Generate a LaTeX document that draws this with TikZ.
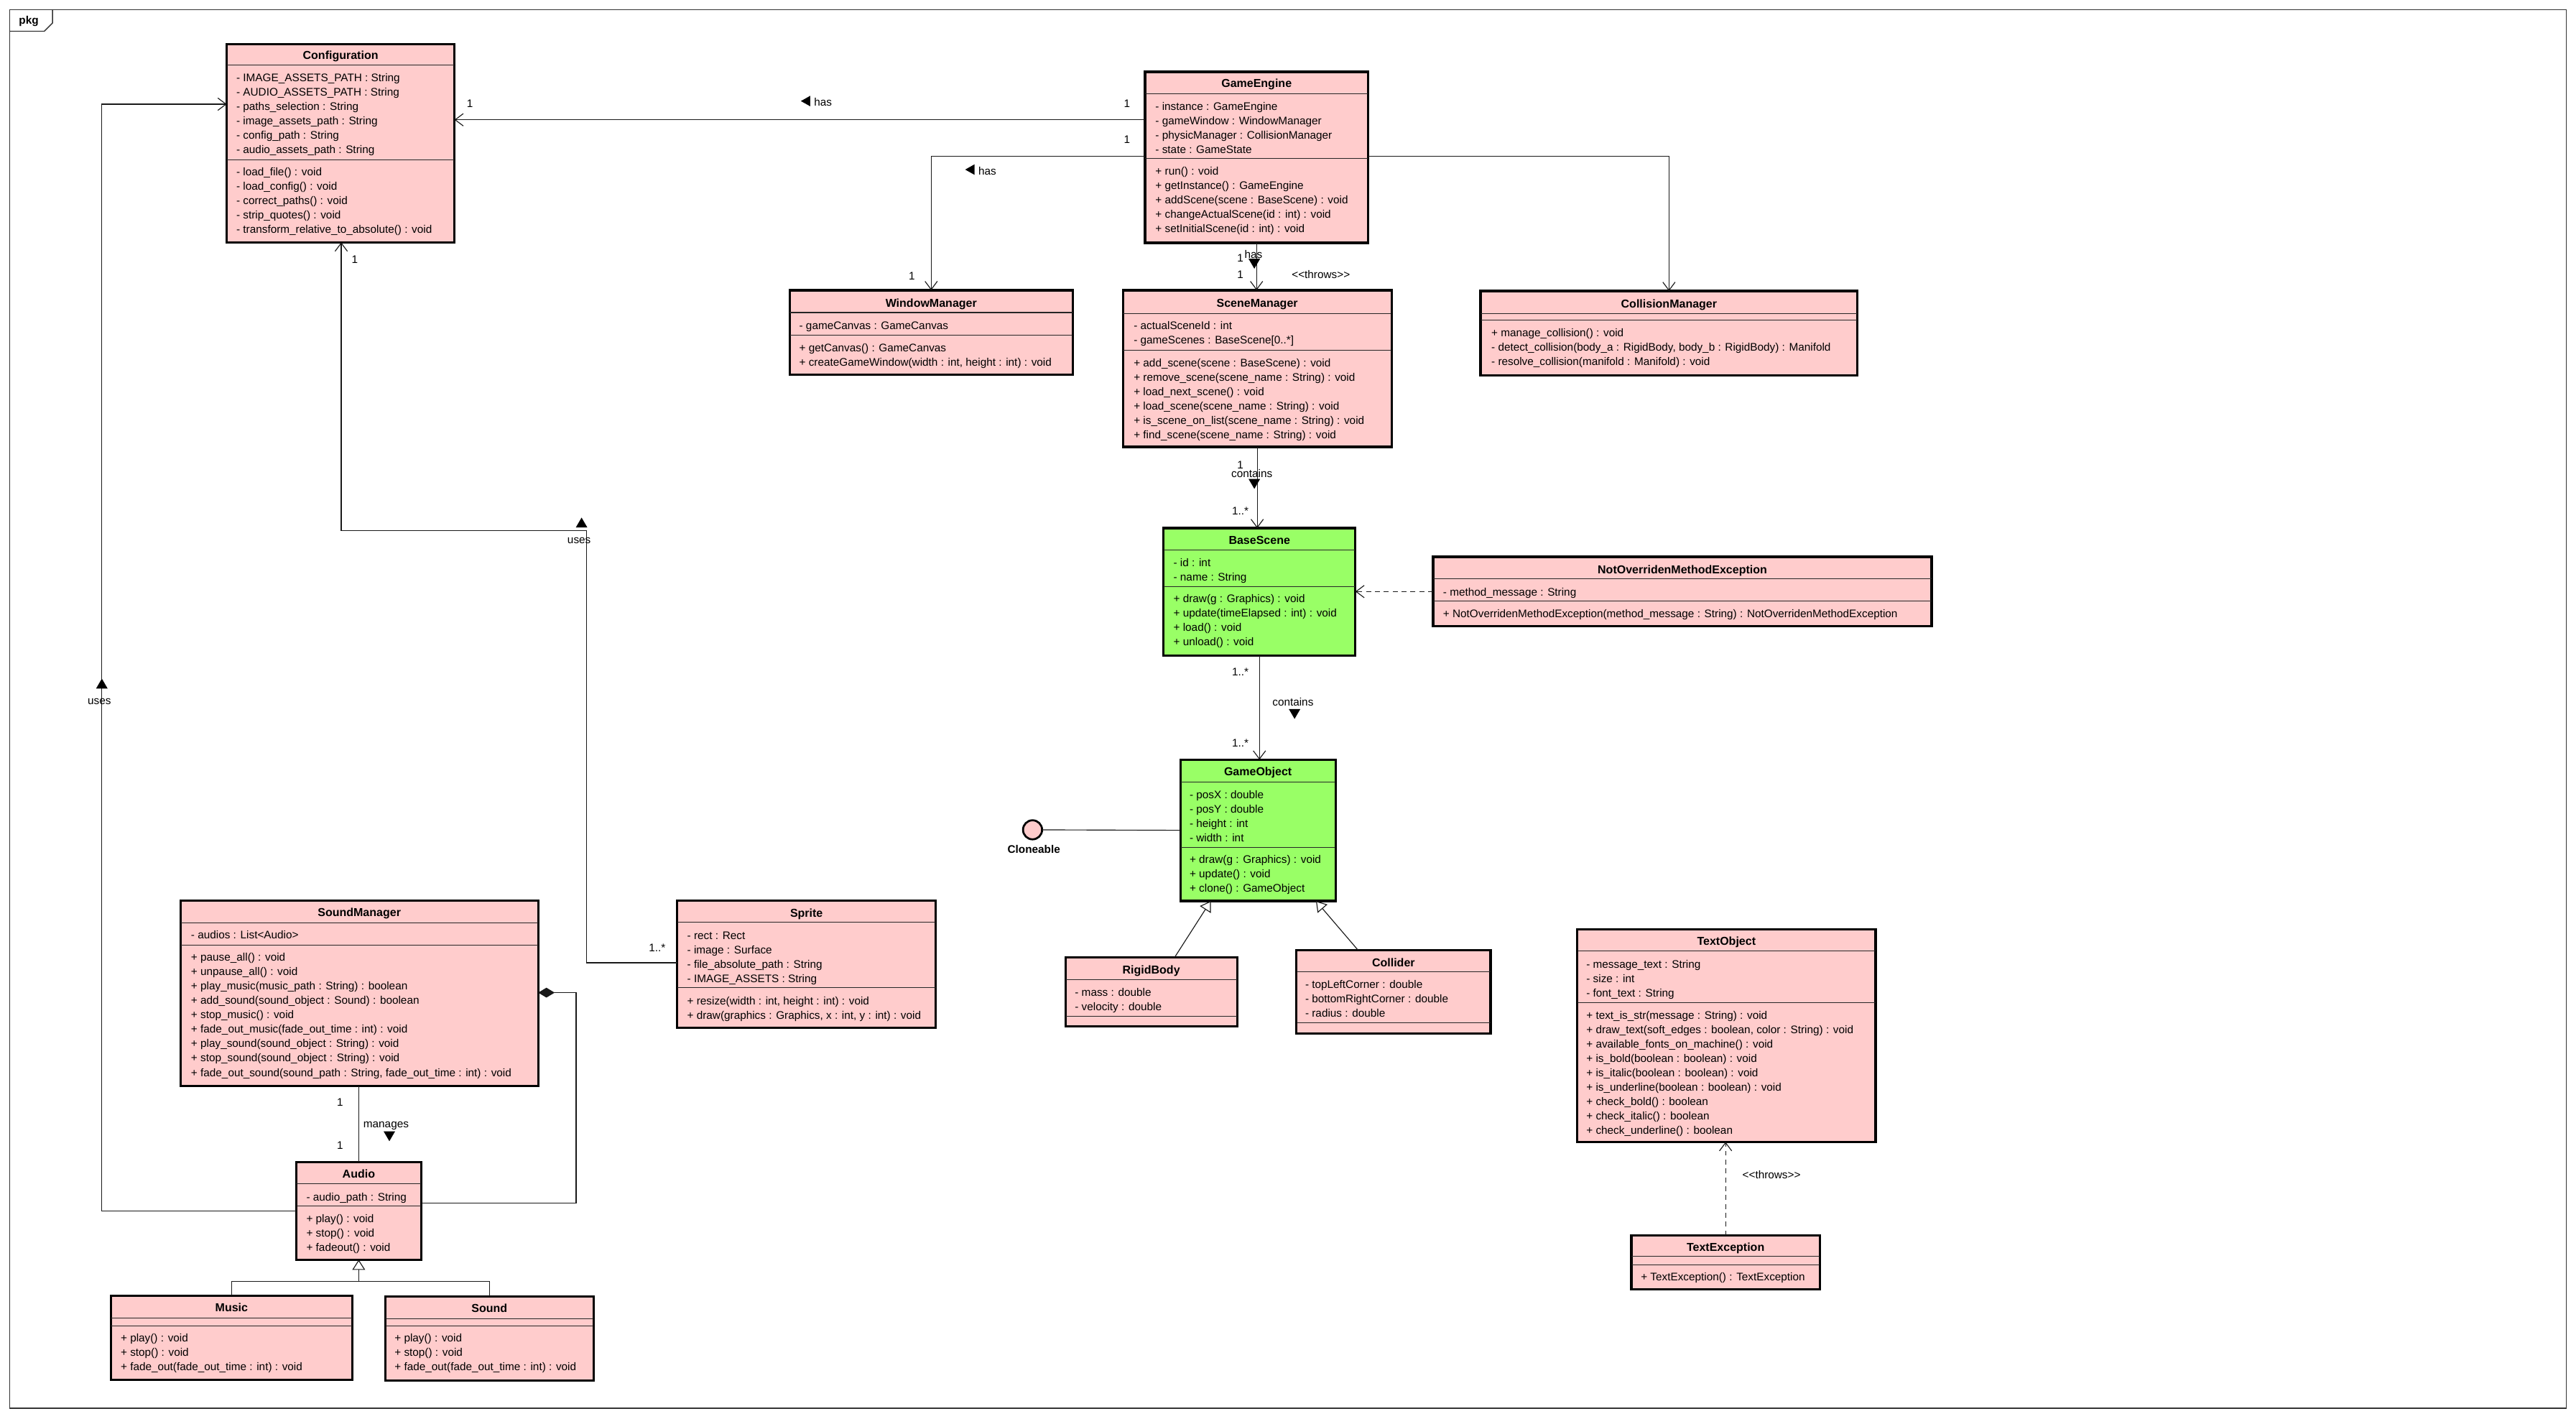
\documentclass[tikz,border=0pt]{standalone}
\usepackage{fontspec}
\setmainfont{Liberation Sans}
\usetikzlibrary{arrows.meta}
\definecolor{pinkfill}{RGB}{255,204,204}
\definecolor{greenfill}{RGB}{153,255,102}
\tikzset{
  every node/.style={font=\fontsize{6.7}{8}\selectfont, inner sep=0pt, outer sep=0pt},
  classbox/.style={draw=black, line width=1.4pt, anchor=north west, inner sep=0pt, outer sep=0pt},
  sepline/.style={line width=0.45pt, draw=black!85},
  ttl/.style={font=\bfseries\fontsize{7}{8}\selectfont, anchor=base},
  conn/.style={line width=0.5pt, draw=black!90},
  openarrow/.style={-{Straight Barb[length=5pt,width=7.5pt]}},
  genarrow/.style={-{Triangle[open,length=6.2pt,width=7.8pt,fill=white]}},
  comparrow/.style={-{Diamond[length=10pt,width=6pt]}},
  dashline/.style={dash pattern=on 3pt off 2.4pt},
  lbl/.style={anchor=center},
  dirmark/.style={fill=black},
}
% box: name, fill, x1, y1, x2, y2
\newcommand\umlbox[6]{\node[classbox, fill=#2, minimum width={(#5-#3)*1pt}, minimum height={(#6-#4)*1pt}] (#1) at (#3,-#4) {};}
% title: name, x center, baseline, text
\newcommand\umltitle[4]{\node[ttl] (#1) at (#2,-#3) {#4};}
% separator: box, y
\newcommand\umlsep[2]{\draw[sepline] (#1.west |- 0,-#2) -- (#1.east |- 0,-#2);}
% rows: prefix, x, first baseline, spacing, list
\newcommand\umlrows[5]{\foreach \t [count=\i from 0] in {#5} {\node[anchor=base west] (#1\i) at (#2,{-(#3+\i*#4)}) {\t};}}
\newcommand\thr{<\kern0pt<throws>\kern0pt>}
\begin{document}
\begin{tikzpicture}[x=1pt,y=1pt]
\fill[white] (0,0) rectangle (1568,-863.2);
\useasboundingbox (0,0) rectangle (1568,-863.2);
% frame
\draw[line width=0.6pt, draw=black!80] (6,-6) rectangle (1562,-857);
\draw[line width=0.6pt, draw=black!80] (6,-19) -- (27,-19) -- (32,-14) -- (32,-6);
\node[font=\bfseries\fontsize{6.7}{8}\selectfont] (pkg) at (17.5,-12.8) {pkg};

% ---------- Configuration
\umlbox{config}{pinkfill}{138}{27}{276.6}{147.5}
\umltitle{configt}{207.3}{35.9}{Configuration}
\umlsep{config}{39.6}\umlsep{config}{97.2}
\umlrows{cfga}{143.9}{49.8}{8.75}{{- IMAGE\_ASSETS\_PATH : String},{- AUDIO\_ASSETS\_PATH : String},{- paths\_selection : String},{- image\_assets\_path : String},{- config\_path : String},{- audio\_assets\_path : String}}
\umlrows{cfgm}{143.9}{107.1}{8.75}{{- load\_file() : void},{- load\_config() : void},{- correct\_paths() : void},{- strip\_quotes() : void},{- transform\_relative\_to\_absolute() : void}}

% ---------- GameEngine
\umlbox{ge}{pinkfill}{697}{43.7}{832.7}{147.8}
\umltitle{get}{764.85}{53.1}{GameEngine}
\umlsep{ge}{57.1}\umlsep{ge}{96.6}
\umlrows{gea}{703.3}{67.3}{8.75}{{- instance : GameEngine},{- gameWindow : WindowManager},{- physicManager : CollisionManager},{- state : GameState}}
\umlrows{gem}{703.3}{106.6}{8.75}{{+ run() : void},{+ getInstance() : GameEngine},{+ addScene(scene : BaseScene) : void},{+ changeActualScene(id : int) : void},{+ setInitialScene(id : int) : void}}

% ---------- WindowManager
\umlbox{wm}{pinkfill}{480.6}{176.6}{653}{228.1}
\umltitle{wmt}{566.8}{186.8}{WindowManager}
\umlsep{wm}{190.2}\umlsep{wm}{203.8}
\umlrows{wma}{486.5}{200.3}{8.75}{{- gameCanvas : GameCanvas}}
\umlrows{wmm}{486.5}{214.0}{8.75}{{+ getCanvas() : GameCanvas},{+ createGameWindow(width : int, height : int) : void}}

% ---------- SceneManager
\umlbox{sm}{pinkfill}{683.5}{176.6}{847}{272}
\umltitle{smt}{765.25}{187.1}{SceneManager}
\umlsep{sm}{190.9}\umlsep{sm}{213.2}
\umlrows{sma}{690.1}{200.6}{8.75}{{- actualSceneId : int},{- gameScenes : BaseScene[0..*]}}
\umlrows{smm}{690.1}{223.2}{8.75}{{+ add\_scene(scene : BaseScene) : void},{+ remove\_scene(scene\_name : String) : void},{+ load\_next\_scene() : void},{+ load\_scene(scene\_name : String) : void},{+ is\_scene\_on\_list(scene\_name : String) : void},{+ find\_scene(scene\_name : String) : void}}

% ---------- CollisionManager
\umlbox{cm}{pinkfill}{901.2}{177.1}{1130.6}{228.5}
\umltitle{cmt}{1015.9}{187.5}{CollisionManager}
\umlsep{cm}{190.9}\umlsep{cm}{195}
\umlrows{cmm}{907.8}{205}{8.75}{{+ manage\_collision() : void},{- detect\_collision(body\_a : RigidBody, body\_b : RigidBody) : Manifold},{- resolve\_collision(manifold : Manifold) : void}}

% ---------- BaseScene
\umlbox{bs}{greenfill}{708.2}{321.4}{825}{398.9}
\umltitle{bst}{766.6}{331.1}{BaseScene}
\umlsep{bs}{334.5}\umlsep{bs}{357.1}
\umlrows{bsa}{714.3}{344.6}{8.75}{{- id : int},{- name : String}}
\umlrows{bsm}{714.3}{366.8}{8.75}{{+ draw(g : Graphics) : void},{+ update(timeElapsed : int) : void},{+ load() : void},{+ unload() : void}}

% ---------- NotOverridenMethodException
\umlbox{nome}{pinkfill}{872.3}{338.9}{1175.8}{381.2}
\umltitle{nomet}{1024.05}{349}{NotOverridenMethodException}
\umlsep{nome}{352.4}\umlsep{nome}{365.8}
\umlrows{nomea}{878.4}{362.7}{8.75}{{- method\_message : String}}
\umlrows{nomem}{878.4}{376}{8.75}{{+ NotOverridenMethodException(method\_message : String) : NotOverridenMethodException}}

% ---------- GameObject
\umlbox{go}{greenfill}{718.5}{462.3}{812.9}{548.3}
\umltitle{got}{765.7}{472.1}{GameObject}
\umlsep{go}{475.9}\umlsep{go}{515.7}
\umlrows{goa}{724.1}{485.8}{8.75}{{- posX : double},{- posY : double},{- height : int},{- width : int}}
\umlrows{gom}{724.1}{525.4}{8.75}{{+ draw(g : Graphics) : void},{+ update() : void},{+ clone() : GameObject}}

% ---------- Cloneable
\node[circle, draw=black, line width=1.2pt, fill=pinkfill, minimum size=11.6pt] (clone) at (628.5,-505) {};
\node[font=\bfseries\fontsize{6.7}{8}\selectfont, anchor=base] (clonet) at (629.3,-519.1) {Cloneable};

% ---------- RigidBody
\umlbox{rb}{pinkfill}{648.5}{582.6}{753}{624.5}
\umltitle{rbt}{700.75}{592.7}{RigidBody}
\umlsep{rb}{596.1}\umlsep{rb}{618.4}
\umlrows{rba}{654.3}{606.1}{8.75}{{- mass : double},{- velocity : double}}

% ---------- Collider
\umlbox{col}{pinkfill}{789.1}{578.2}{907.3}{628.9}
\umltitle{colt}{848.2}{588.3}{Collider}
\umlsep{col}{591.3}\umlsep{col}{622.4}
\umlrows{cola}{794.5}{601.4}{8.75}{{- topLeftCorner : double},{- bottomRightCorner : double},{- radius : double}}

% ---------- TextObject
\umlbox{to}{pinkfill}{960}{565.6}{1141.7}{695}
\umltitle{tot}{1050.85}{575.4}{TextObject}
\umlsep{to}{578.9}\umlsep{to}{610}
\umlrows{toa}{965.6}{589.2}{8.75}{{- message\_text : String},{- size : int},{- font\_text : String}}
\umlrows{tom}{965.6}{620.1}{8.75}{{+ text\_is\_str(message : String) : void},{+ draw\_text(soft\_edges : boolean, color : String) : void},{+ available\_fonts\_on\_machine() : void},{+ is\_bold(boolean : boolean) : void},{+ is\_italic(boolean : boolean) : void},{+ is\_underline(boolean : boolean) : void},{+ check\_bold() : boolean},{+ check\_italic() : boolean},{+ check\_underline() : boolean}}

% ---------- TextException
\umlbox{te}{pinkfill}{993}{751.9}{1107.7}{784.6}
\umltitle{tet}{1050.35}{761.4}{TextException}
\umlsep{te}{764.7}\umlsep{te}{769.6}
\umlrows{tem}{998.8}{779.2}{8.75}{{+ TextException() : TextException}}

% ---------- SoundManager
\umlbox{sndm}{pinkfill}{109.8}{548}{327.6}{661}
\umltitle{sndmt}{218.7}{557.7}{SoundManager}
\umlsep{sndm}{561.6}\umlsep{sndm}{575}
\umlrows{sndma}{116.3}{571.3}{8.75}{{- audios : List<Audio>}}
\umlrows{sndmm}{116.3}{585}{8.75}{{+ pause\_all() : void},{+ unpause\_all() : void},{+ play\_music(music\_path : String) : boolean},{+ add\_sound(sound\_object : Sound) : boolean},{+ stop\_music() : void},{+ fade\_out\_music(fade\_out\_time : int) : void},{+ play\_sound(sound\_object : String) : void},{+ stop\_sound(sound\_object : String) : void},{+ fade\_out\_sound(sound\_path : String, fade\_out\_time : int) : void}}

% ---------- Sprite
\umlbox{sprite}{pinkfill}{412.2}{548}{569.6}{625.6}
\umltitle{spritet}{490.9}{558}{Sprite}
\umlsep{sprite}{561.1}\umlsep{sprite}{601.2}
\umlrows{spritea}{418.3}{571.6}{8.75}{{- rect : Rect},{- image : Surface},{- file\_absolute\_path : String},{- IMAGE\_ASSETS : String}}
\umlrows{spritem}{418.3}{611.4}{8.75}{{+ resize(width : int, height : int) : void},{+ draw(graphics : Graphics, x : int, y : int) : void}}

% ---------- Audio
\umlbox{audio}{pinkfill}{180.3}{707.2}{256.4}{766.6}
\umltitle{audiot}{218.35}{717}{Audio}
\umlsep{audio}{720.3}\umlsep{audio}{734}
\umlrows{audioa}{186.5}{730.7}{8.75}{{- audio\_path : String}}
\umlrows{audiom}{186.5}{743.8}{8.9}{{+ play() : void},{+ stop() : void},{+ fadeout() : void}}

% ---------- Music
\umlbox{music}{pinkfill}{67.5}{788.5}{214.4}{839.8}
\umltitle{musict}{140.95}{798.2}{Music}
\umlsep{music}{802.1}\umlsep{music}{807}
\umlrows{musicm}{73.5}{816.7}{8.75}{{+ play() : void},{+ stop() : void},{+ fade\_out(fade\_out\_time : int) : void}}

% ---------- Sound
\umlbox{sound}{pinkfill}{234.5}{789}{361.3}{840.3}
\umltitle{soundt}{297.9}{798.7}{Sound}
\umlsep{sound}{802.7}\umlsep{sound}{807}
\umlrows{soundm}{240.2}{816.7}{8.75}{{+ play() : void},{+ stop() : void},{+ fade\_out(fade\_out\_time : int) : void}}

% ================= connectors
% GameEngine -> Configuration
\draw[conn, openarrow] (ge.west |- 0,-72.9) -- (config.east |- 0,-72.9);
\node[lbl] (c1a) at (286,-63) {1};
\node[lbl] (c1b) at (686,-63) {1};
\fill[dirmark] (487.5,-61.5) -- (493.2,-58.3) -- (493.2,-64.7) -- cycle;
\node[lbl] (c1c) at (501,-62) {has};
% GameEngine -> WindowManager
\draw[conn, openarrow] (ge.west |- 0,-95.2) -| (wm.north);
\node[lbl] (c2a) at (686,-85) {1};
\node[lbl] (c2b) at (555,-168) {1};
\fill[dirmark] (587.5,-103.2) -- (593.2,-100) -- (593.2,-106.4) -- cycle;
\node[lbl] (c2c) at (601,-104) {has};
% GameEngine -> CollisionManager
\draw[conn, openarrow] (ge.east |- 0,-95.2) -| (cm.north);
% GameEngine -> SceneManager
\draw[conn, openarrow] (ge.south) -- (ge.south |- sm.north);
\node[lbl] (c3a) at (755,-157) {1};
\node[lbl] (c3b) at (755,-167) {1};
\node[lbl] (c3c) at (763,-155) {has};
\fill[dirmark] (760,-157.5) -- (767,-157.5) -- (763.5,-163.5) -- cycle;
\node[lbl] (c3d) at (804,-167) {\thr};
% SceneManager -> BaseScene
\draw[conn, openarrow] (sm.south) -- (sm.south |- bs.north);
\node[lbl] (c4a) at (755,-283) {1};
\node[lbl] (c4b) at (762,-288) {contains};
\fill[dirmark] (760,-291.5) -- (767,-291.5) -- (763.5,-297.5) -- cycle;
\node[lbl] (c4c) at (755,-311) {1..*};
% BaseScene -> GameObject
\draw[conn, openarrow] (bs.south) -- (bs.south |- go.north);
\node[lbl] (c5a) at (755,-409) {1..*};
\node[lbl] (c5b) at (787,-427) {contains};
\fill[dirmark] (784.5,-431.5) -- (791.5,-431.5) -- (788,-437.5) -- cycle;
\node[lbl] (c5c) at (755,-452) {1..*};
% NotOverriden -> BaseScene
\draw[conn, dashline, openarrow] (nome.west |- 0,-360) -- (bs.east |- 0,-360);
% Cloneable
\draw[conn] (clone.east) -- (go.west |- 0,-505.3);
% RigidBody, Collider -> GameObject
\draw[conn, genarrow] (rb.north -| 715,0) -- (go.south -| 737,0);
\draw[conn, genarrow] (col.north -| 826.6,0) -- (go.south -| 801,0);
% TextException -> TextObject
\draw[conn, dashline, openarrow] (te.north) -- (te.north |- to.south);
\node[lbl] (c6a) at (1078.3,-714.7) {\thr};
% Audio -> Configuration (uses)
\draw[conn, openarrow] (audio.west |- 0,-736.8) -| (61.8,-63.4) -- (config.west |- 0,-63.4);
\fill[dirmark] (62,-413) -- (58.5,-419) -- (65.5,-419) -- cycle;
\node[lbl] (c7a) at (60.5,-427) {uses};
% Sprite -> Configuration (uses)
\draw[conn, openarrow] (sprite.west |- 0,-585.9) -| (357,-323) -| (config.south -| 207.7,0);
\node[lbl] (c8a) at (216,-158) {1};
\fill[dirmark] (354,-315) -- (350.5,-321) -- (357.5,-321) -- cycle;
\node[lbl] (c8b) at (352.5,-329) {uses};
\node[lbl] (c8c) at (400,-577) {1..*};
% SoundManager -- Audio (manages)
\draw[conn] (audio.north |- sndm.south) -- (audio.north);
\node[lbl] (c9a) at (207,-671) {1};
\node[lbl] (c9b) at (207,-697) {1};
\node[lbl] (c9c) at (235,-685) {manages};
\fill[dirmark] (233.5,-688.5) -- (240.5,-688.5) -- (237,-694.5) -- cycle;
% Audio -> SoundManager composition
\draw[conn, comparrow] (audio.east |- 0,-732) -| (350.7,-604.1) -- (sndm.east |- 0,-604.1);
% Music, Sound -> Audio
\draw[conn] (music.north) |- (sound.north |- 0,-780) -- (sound.north);
\draw[conn, genarrow] (audio.south |- 0,-780) -- (audio.south);
\end{tikzpicture}
\end{document}
